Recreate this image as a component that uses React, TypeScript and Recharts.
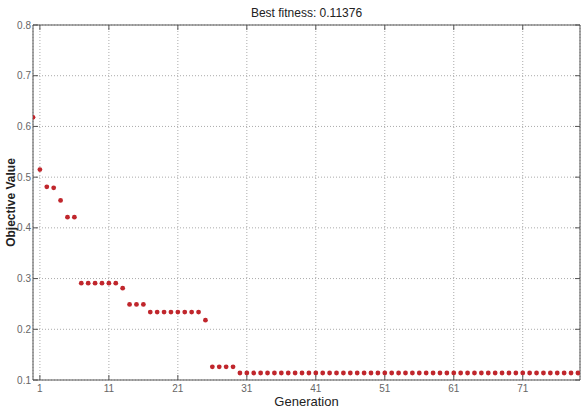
import React from 'react'
import { ScatterChart, Scatter, XAxis, YAxis, CartesianGrid } from 'recharts'

const generations = [
  0, 1, 2, 3, 4, 5, 6, 7, 8, 9, 10, 11, 12, 13, 14, 15, 16, 17, 18, 19,
  20, 21, 22, 23, 24, 25, 26, 27, 28, 29, 30, 31, 32, 33, 34, 35, 36, 37, 38, 39,
  40, 41, 42, 43, 44, 45, 46, 47, 48, 49, 50, 51, 52, 53, 54, 55, 56, 57, 58, 59,
  60, 61, 62, 63, 64, 65, 66, 67, 68, 69, 70, 71, 72, 73, 74, 75, 76, 77, 78, 79,
]

const bestValues = [
  0.618, 0.515, 0.481, 0.479, 0.454, 0.421, 0.421, 0.291, 0.291, 0.291,
  0.291, 0.291, 0.291, 0.281, 0.249, 0.249, 0.249, 0.234, 0.234, 0.234,
  0.234, 0.234, 0.234, 0.234, 0.234, 0.218, 0.126, 0.126, 0.126, 0.126,
  0.11376, 0.11376, 0.11376, 0.11376, 0.11376, 0.11376, 0.11376, 0.11376, 0.11376, 0.11376,
  0.11376, 0.11376, 0.11376, 0.11376, 0.11376, 0.11376, 0.11376, 0.11376, 0.11376, 0.11376,
  0.11376, 0.11376, 0.11376, 0.11376, 0.11376, 0.11376, 0.11376, 0.11376, 0.11376, 0.11376,
  0.11376, 0.11376, 0.11376, 0.11376, 0.11376, 0.11376, 0.11376, 0.11376, 0.11376, 0.11376,
  0.11376, 0.11376, 0.11376, 0.11376, 0.11376, 0.11376, 0.11376, 0.11376, 0.11376, 0.11376,
]

const xTicks = [1, 11, 21, 31, 41, 51, 61, 71]
const yTicks = [0.1, 0.2, 0.3, 0.4, 0.5, 0.6, 0.7, 0.8]

const data = generations.map((g, i) => ({ generation: g, value: bestValues[i] }))

const FONT = '"Liberation Sans", Arial, sans-serif'
const AXIS = '#555'
const TICK_TEXT = '#666'

const BottomTick = (props: any) => {
  const { x, y, payload } = props
  return (
    <g>
      <line x1={x} y1={y} x2={x} y2={y - 5} stroke={AXIS} />
      <text x={x} y={y + 12} textAnchor="middle" fontSize={10} fill={TICK_TEXT} fontFamily={FONT}>
        {payload.value}
      </text>
    </g>
  )
}

const TopTick = (props: any) => {
  const { x, y } = props
  return <line x1={x} y1={y} x2={x} y2={y + 5} stroke={AXIS} />
}

const LeftTick = (props: any) => {
  const { x, y, payload } = props
  return (
    <g>
      <line x1={x} y1={y} x2={x + 5} y2={y} stroke={AXIS} />
      <text x={x - 2} y={y + 3.5} textAnchor="end" fontSize={10} fill={TICK_TEXT} fontFamily={FONT}>
        {payload.value.toFixed(1)}
      </text>
    </g>
  )
}

const RightTick = (props: any) => {
  const { x, y } = props
  return <line x1={x} y1={y} x2={x - 5} y2={y} stroke={AXIS} />
}

const Dot = (props: any) => <circle cx={props.cx} cy={props.cy} r={2.4} fill="#c0262c" />

const App = () => {
  return (
    <div style={{ position: 'absolute', left: 0, top: 0, background: '#fff' }}>
      <ScatterChart width={582} height={410} margin={{ top: 0, right: 0, bottom: 0, left: 0 }} style={{ fontFamily: FONT }}>
        <CartesianGrid stroke="#aaa" strokeDasharray="1 2" />
        <XAxis
          xAxisId={0}
          dataKey="generation"
          type="number"
          domain={[0, 79.3]}
          allowDataOverflow
          ticks={xTicks}
          height={30}
          stroke={AXIS}
          tickLine={false}
          tickSize={0}
          tickMargin={0}
          tick={<BottomTick />}
          label={{ value: 'Generation', position: 'insideBottom', offset: 4, fontSize: 13, fill: '#222' }}
        />
        <XAxis
          xAxisId="top"
          orientation="top"
          dataKey="generation"
          type="number"
          domain={[0, 79.3]}
          allowDataOverflow
          ticks={xTicks}
          height={25}
          stroke={AXIS}
          tickLine={false}
          tickSize={0}
          tickMargin={0}
          tick={<TopTick />}
          label={{ value: 'Best fitness: 0.11376', position: 'insideTop', offset: 8, fontSize: 12, fill: '#222' }}
        />
        <YAxis
          yAxisId={0}
          dataKey="value"
          type="number"
          domain={[0.1, 0.8]}
          allowDataOverflow
          ticks={yTicks}
          width={33}
          stroke={AXIS}
          tickLine={false}
          tickSize={0}
          tickMargin={0}
          tick={<LeftTick />}
          label={{ value: 'Objective Value', angle: -90, position: 'insideLeft', offset: 11, fontSize: 12, fontWeight: 'bold', fill: '#222', style: { textAnchor: 'middle' } }}
        />
        <YAxis
          yAxisId="right"
          orientation="right"
          dataKey="value"
          type="number"
          domain={[0.1, 0.8]}
          allowDataOverflow
          ticks={yTicks}
          width={2}
          stroke={AXIS}
          tickLine={false}
          tickSize={0}
          tickMargin={0}
          tick={<RightTick />}
        />
        <Scatter xAxisId="top" yAxisId="right" data={data} shape={() => <g />} isAnimationActive={false} />
        <Scatter xAxisId={0} yAxisId={0} data={data} shape={<Dot />} isAnimationActive={false} />
      </ScatterChart>
    </div>
  )
}

export default App
